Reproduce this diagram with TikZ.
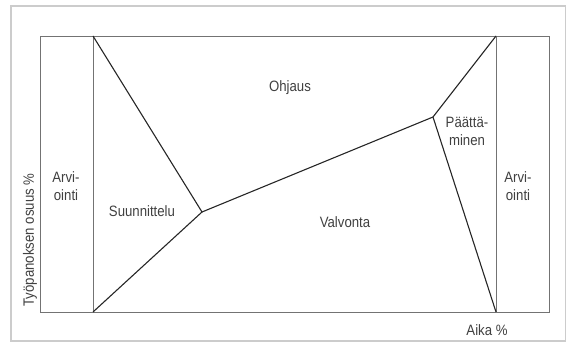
\documentclass[tikz,border=0pt]{standalone}
\usepackage{fontspec}
\setmainfont[FakeStretch=0.88]{Liberation Sans}
\begin{document}
\begin{tikzpicture}[x=1pt,y=-1pt,
  frame/.style={draw=black!55,line width=0.9pt},
  seg/.style={draw=black!85,line width=1.1pt},
  lbl/.style={text=black!75,font=\fontsize{15}{15}\selectfont,inner sep=0pt,align=center},
  lbl2/.style={text=black!75,font=\fontsize{15}{18}\selectfont,inner sep=0pt,align=center}]
\useasboundingbox (0,0) rectangle (566,347);
\draw[draw=black!20,line width=1.2pt] (11,6) rectangle (566,341);
% corners and vertices
\coordinate (TL) at (40,36);
\coordinate (BR) at (549,312);
\coordinate (A) at (93,36);
\coordinate (B) at (93,312);
\coordinate (C) at (496,36);
\coordinate (D) at (496,312);
\coordinate (P) at (202,212);
\coordinate (Q) at (433,117);
\draw[frame] (TL) rectangle (BR);
\draw[frame] (A) -- (B);
\draw[frame] (C) -- (D);
\draw[seg] (A) -- (P) -- (B);
\draw[seg] (P) -- (Q) -- (C);
\draw[seg] (Q) -- (D);
% labels
\node[lbl] (ohj) at (290,88) {Ohjaus};
\node[lbl2] (paa) at (467,131) {Päättä-\\minen};
\node[lbl] (suu) at (142,211) {Suunnittelu};
\node[lbl] (val) at (345,222) {Valvonta};
\node[lbl2] (arv1) at (66,186) {Arvi-\\ointi};
\node[lbl2] (arv2) at (518,186) {Arvi-\\ointi};
\node[lbl,rotate=90] (yax) at (30,240) {Työpanoksen osuus \%};
\node[lbl] (xax) at (487,330) {Aika \%};
\end{tikzpicture}
\end{document}
